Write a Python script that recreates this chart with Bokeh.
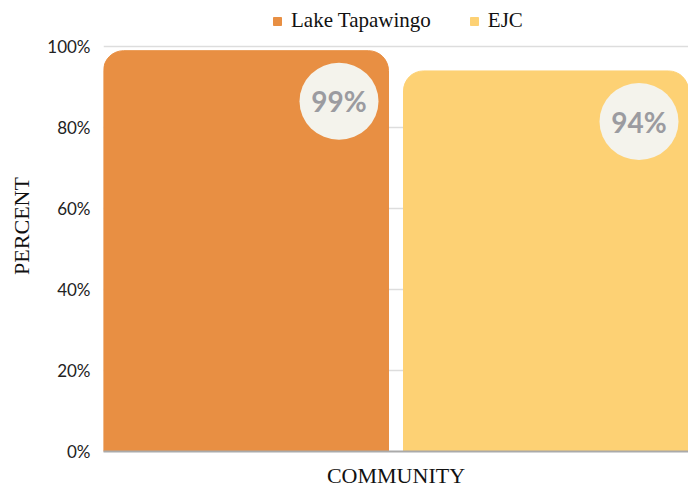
from bokeh.plotting import figure
from bokeh.models import Range1d, ColumnDataSource, Legend, LegendItem, FixedTicker, CustomJSTickFormatter
from bokeh.core.properties import value
from bokeh.embed import file_html
from bokeh.resources import INLINE

communities = ["Lake Tapawingo", "EJC"]
percents = [99, 94]
labels = ["99%", "94%"]
colors = ["#E88F43", "#FDD174"]
y_ticks = [0, 20, 40, 60, 80, 100]

xs = list(range(len(communities)))
src = ColumnDataSource(dict(x=xs, top=percents, color=colors, name=communities,
                            lx=[x + 0.31 for x in xs], ly=[v - 12.5 for v in percents], label=labels))

p = figure(width=688, height=490, output_backend="svg", toolbar_location=None,
           x_range=Range1d(-0.475, 1.475), y_range=Range1d(0, 111.4),
           min_border_left=103, min_border_right=0, min_border_top=0, min_border_bottom=0)
p.outline_line_color = None
p.background_fill_color = None
p.border_fill_color = None

r = p.vbar(x="x", top="top", width=0.95, bottom=0, color="color", source=src,
           border_radius=(20, 20, 0, 0))
p.ellipse(x="lx", y="ly", width=79, height=77, width_units="screen", height_units="screen",
          fill_color="#F4F3EC", line_color=None, source=src)
p.text(x="lx", y="ly", text="label", source=src, text_align="center", text_baseline="middle",
       text_font=value("Lato"), text_font_style="bold", text_font_size="28px", text_color="#9B9BA0")

p.yaxis.ticker = FixedTicker(ticks=y_ticks)
p.yaxis.formatter = CustomJSTickFormatter(code="return tick + '%';")
p.yaxis.axis_line_color = None
p.yaxis.major_tick_line_color = None
p.yaxis.minor_tick_line_color = None
p.yaxis.major_tick_out = 0
p.yaxis.major_label_text_font = "Lato"
p.yaxis.major_label_text_font_size = "17px"
p.yaxis.major_label_text_color = "#222222"
p.yaxis.major_label_standoff = 13
p.yaxis.axis_label = "PERCENT"
p.yaxis.axis_label_text_font = "Liberation Serif"
p.yaxis.axis_label_text_font_style = "normal"
p.yaxis.axis_label_text_font_size = "22px"
p.yaxis.axis_label_text_color = "#111111"
p.yaxis.axis_label_standoff = 10

p.xaxis.ticker = FixedTicker(ticks=[])
p.xaxis.major_label_text_font_size = "0px"
p.xaxis.major_label_standoff = 0
p.xaxis.major_tick_out = 0
p.xaxis.axis_line_color = "#AAAAAA"
p.xaxis.axis_line_width = 2
p.xaxis.major_tick_line_color = None
p.xaxis.minor_tick_line_color = None
p.xaxis.axis_label = "COMMUNITY"
p.xaxis.axis_label_text_font = "Liberation Serif"
p.xaxis.axis_label_text_font_style = "normal"
p.xaxis.axis_label_text_font_size = "22px"
p.xaxis.axis_label_text_color = "#111111"
p.xaxis.axis_label_standoff = 11

p.xgrid.grid_line_color = None
p.ygrid.grid_line_color = "#DDDDDD"
p.ygrid.grid_line_width = 1.5

items = [LegendItem(label=communities[i], renderers=[r], index=i) for i in range(len(communities))]
legend = Legend(items=items, orientation="horizontal", location=(169, 418),
                label_text_font="Liberation Serif", label_text_font_size="21px",
                label_text_color="#111111", glyph_width=10, glyph_height=10,
                label_standoff=9, spacing=38, padding=4, margin=0, border_line_color=None,
                background_fill_alpha=0)
p.add_layout(legend)

open("out.html", "w").write(file_html(p, INLINE))
